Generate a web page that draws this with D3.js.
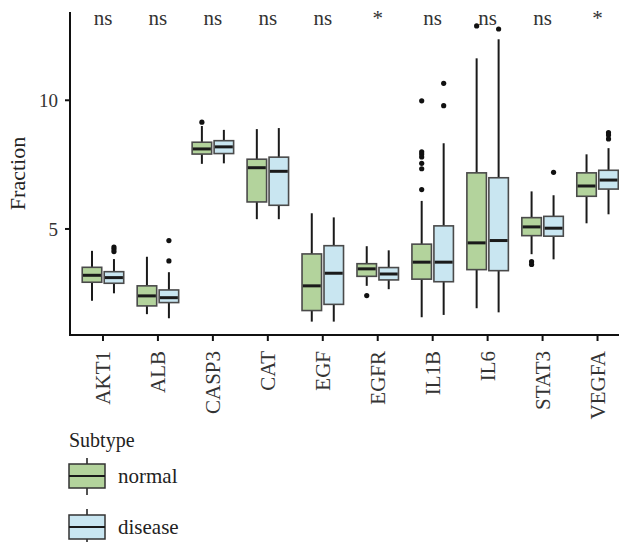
<!DOCTYPE html>
<html>
<head>
<meta charset="utf-8">
<script src="https://cdn.jsdelivr.net/npm/d3@7"></script>
<style>
  html, body { margin: 0; padding: 0; background: #fff; }
  svg { display: block; font-family: "Liberation Serif", "DejaVu Serif", serif; }
</style>
</head>
<body>
<div id="chart"></div>
<script>
/* boxplot of gene fraction by subtype */
var genes = ['AKT1','ALB','CASP3','CAT','EGF','EGFR','IL1B','IL6','STAT3','VEGFA'];
var sigLabels = ['ns','ns','ns','ns','ns','*','ns','ns','ns','*'];

// [lower whisker, q1, median, q3, upper whisker]
var normalStats = [
    [2.21, 2.93, 3.20, 3.51, 4.15],
    [1.69, 2.01, 2.40, 2.79, 3.92],
    [7.53, 7.91, 8.11, 8.37, 9.00],
    [5.38, 6.05, 7.38, 7.71, 8.88],
    [1.40, 1.83, 2.79, 4.03, 5.61],
    [2.79, 3.16, 3.45, 3.65, 4.33],
    [1.57, 3.05, 3.71, 4.41, 6.09],
    [1.92, 3.42, 4.46, 7.18, 11.63],
    [4.02, 4.74, 5.08, 5.44, 6.46],
    [5.22, 6.27, 6.67, 7.18, 7.90]
];
var diseaseStats = [
    [2.50, 2.89, 3.11, 3.34, 3.83],
    [1.53, 2.14, 2.33, 2.63, 3.32],
    [7.55, 7.93, 8.19, 8.43, 8.85],
    [5.38, 5.92, 7.24, 7.79, 8.92],
    [1.40, 2.07, 3.28, 4.35, 5.45],
    [2.66, 3.02, 3.25, 3.50, 4.17],
    [1.66, 2.95, 3.71, 5.12, 8.33],
    [1.76, 3.38, 4.55, 6.99, 12.37],
    [3.82, 4.72, 5.03, 5.49, 6.31],
    [5.57, 6.55, 6.90, 7.28, 8.14]
];
var normalOutliers = [
    [], [], [9.15], [], [], [2.41],
    [9.98, 8.00, 7.91, 7.80, 7.55, 7.34, 6.53],
    [12.89], [3.73, 3.62], []
];
var diseaseOutliers = [
    [4.30, 4.22, 4.12], [4.55, 3.76], [], [], [], [],
    [10.66, 9.79], [12.77], [7.20], [8.74, 8.65, 8.50]
];
var yTicks = [5, 10];
var subtypes = ['normal', 'disease'];
var fills = ['#b3d39c', '#c9e6f1'];

var W = 619, H = 542;
var panel = { left: 70, right: 630.5, top: 12, bottom: 335 };

var svg = d3.select('#chart').append('svg').attr('width', W).attr('height', H);

var x = d3.scalePoint().domain(genes).range([panel.left, panel.right]).padding(0.6);
var step = x.step();
var y = d3.scaleLinear().domain([0.88, 13.43]).range([panel.bottom, panel.top]);

var boxW = step * 0.355;
var dodge = step * 0.2;

var series = [
    { name: 'normal',  stats: normalStats,  out: normalOutliers,  fill: fills[0], off: -dodge },
    { name: 'disease', stats: diseaseStats, out: diseaseOutliers, fill: fills[1], off:  dodge }
];

var g = svg.append('g');

series.forEach(function(s){
    var sg = g.append('g');
    var box = sg.selectAll('g').data(s.stats).join('g')
        .attr('transform', function(d, i){ return 'translate(' + (x(genes[i]) + s.off) + ',0)'; });

    // whiskers
    box.append('line')
        .attr('x1', 0).attr('x2', 0)
        .attr('y1', function(d){ return y(d[4]); })
        .attr('y2', function(d){ return y(d[3]); })
        .attr('stroke', '#1a1a1a').attr('stroke-width', 2);
    box.append('line')
        .attr('x1', 0).attr('x2', 0)
        .attr('y1', function(d){ return y(d[1]); })
        .attr('y2', function(d){ return y(d[0]); })
        .attr('stroke', '#1a1a1a').attr('stroke-width', 2);

    // box body
    box.append('rect')
        .attr('x', -boxW / 2).attr('width', boxW)
        .attr('y', function(d){ return y(d[3]); })
        .attr('height', function(d){ return y(d[1]) - y(d[3]); })
        .attr('fill', s.fill)
        .attr('stroke', '#4a4a4a').attr('stroke-width', 1.6);

    // median
    box.append('line')
        .attr('x1', -boxW / 2 + 0.8).attr('x2', boxW / 2 - 0.8)
        .attr('y1', function(d){ return y(d[2]); })
        .attr('y2', function(d){ return y(d[2]); })
        .attr('stroke', '#1a1a1a').attr('stroke-width', 3);

    // outliers
    box.each(function(d, i){
        d3.select(this).selectAll('circle').data(s.out[i]).join('circle')
            .attr('cx', 0).attr('cy', function(v){ return y(v); })
            .attr('r', 2.6).attr('fill', '#111');
    });
});

// axes
var axG = svg.append('g');
axG.append('line')
    .attr('x1', panel.left).attr('x2', panel.left)
    .attr('y1', panel.top).attr('y2', panel.bottom + 1)
    .attr('stroke', '#111').attr('stroke-width', 2);
axG.append('line')
    .attr('x1', panel.left - 1).attr('x2', W)
    .attr('y1', panel.bottom).attr('y2', panel.bottom)
    .attr('stroke', '#111').attr('stroke-width', 2);

// y ticks
axG.selectAll('.yt').data(yTicks).join('line').attr('class', 'yt')
    .attr('x1', panel.left - 5).attr('x2', panel.left)
    .attr('y1', function(d){ return y(d); }).attr('y2', function(d){ return y(d); })
    .attr('stroke', '#111').attr('stroke-width', 2);
axG.selectAll('.yl').data(yTicks).join('text').attr('class', 'yl')
    .attr('x', panel.left - 12).attr('y', function(d){ return y(d); })
    .attr('dy', '0.35em').attr('text-anchor', 'end')
    .attr('font-size', 19).attr('fill', '#333')
    .text(function(d){ return d; });

// x ticks
axG.selectAll('.xt').data(genes).join('line').attr('class', 'xt')
    .attr('x1', function(d){ return x(d); }).attr('x2', function(d){ return x(d); })
    .attr('y1', panel.bottom).attr('y2', panel.bottom + 6)
    .attr('stroke', '#111').attr('stroke-width', 2);
axG.selectAll('.xl').data(genes).join('text').attr('class', 'xl')
    .attr('transform', function(d){ return 'translate(' + x(d) + ',' + (panel.bottom + 16) + ') rotate(-90)'; })
    .attr('dy', '0.35em').attr('text-anchor', 'end')
    .attr('font-size', 21).attr('fill', '#333')
    .text(function(d){ return d; });

// axis title
svg.append('text')
    .attr('transform', 'translate(25,' + ((panel.top + panel.bottom) / 2) + ') rotate(-90)')
    .attr('text-anchor', 'middle')
    .attr('font-size', 22).attr('fill', '#222')
    .text('Fraction');

// significance labels
svg.selectAll('.sig').data(sigLabels).join('text').attr('class', 'sig')
    .attr('x', function(d, i){ return x(genes[i]); })
    .attr('y', 25)
    .attr('text-anchor', 'middle')
    .attr('font-size', 21).attr('fill', '#333')
    .text(function(d){ return d; });

// legend
var lg = svg.append('g').attr('transform', 'translate(69,0)');
lg.append('text').attr('x', 0).attr('y', 447)
    .attr('font-size', 20).attr('fill', '#222').text('Subtype');

var keys = lg.selectAll('.key').data(subtypes).join('g').attr('class', 'key')
    .attr('transform', function(d, i){ return 'translate(0,' + (464 + i * 51) + ')'; });
keys.append('line').attr('x1', 18).attr('x2', 18).attr('y1', -6).attr('y2', 31)
    .attr('stroke', '#1a1a1a').attr('stroke-width', 1.5);
keys.append('rect').attr('x', 0).attr('y', 0).attr('width', 36).attr('height', 24)
    .attr('fill', function(d, i){ return fills[i]; })
    .attr('stroke', '#333').attr('stroke-width', 1.5);
keys.append('line').attr('x1', 0).attr('x2', 36).attr('y1', 12).attr('y2', 12)
    .attr('stroke', '#1a1a1a').attr('stroke-width', 2);
keys.append('text').attr('x', 49).attr('y', 12).attr('dy', '0.35em')
    .attr('font-size', 21).attr('fill', '#222')
    .text(function(d){ return d; });
</script>
</body>
</html>
